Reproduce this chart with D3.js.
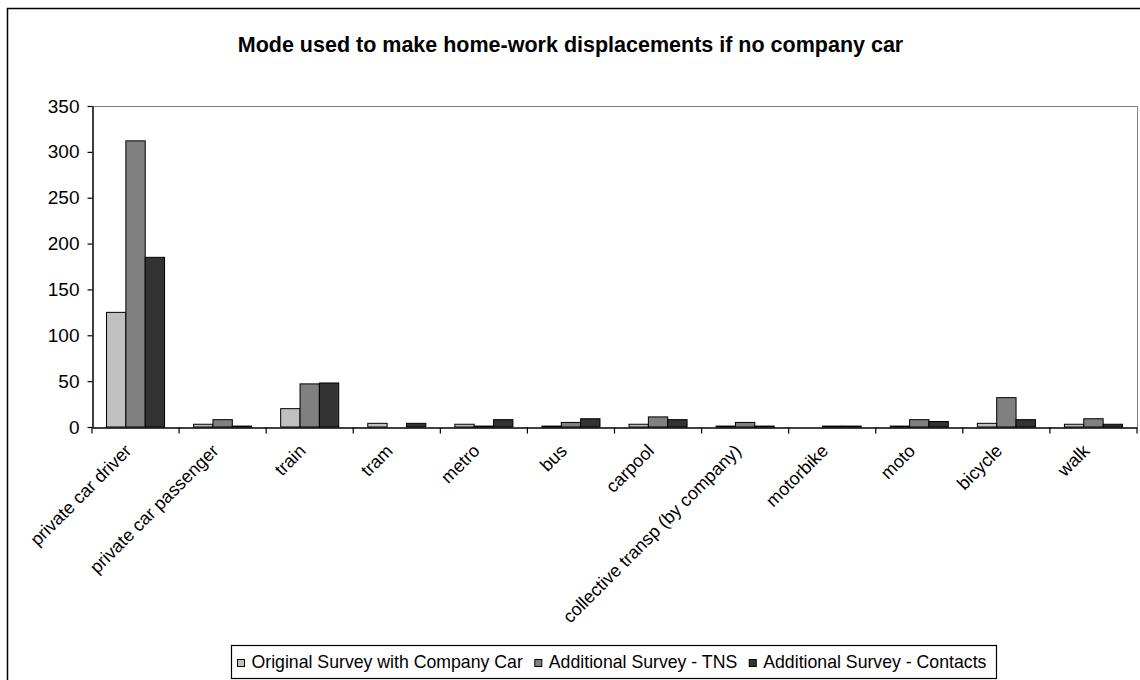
<!DOCTYPE html>
<html>
<head>
<meta charset="utf-8">
<script src="https://cdn.jsdelivr.net/npm/d3@7"></script>
<style>
  html, body { margin: 0; padding: 0; background: #fff; }
  svg { display: block; font-family: Arial, "Liberation Sans", sans-serif; }
</style>
</head>
<body>
<svg id="chart" width="1140" height="680"></svg>
<script>
// Transport modes (x categories)
const categories = [
  "private car driver", "private car passenger", "train", "tram", "metro", "bus",
  "carpool", "collective transp (by company)", "motorbike", "moto", "bicycle", "walk"
];

// Series names and counts per mode
const seriesNames = [
  "Original Survey with Company Car",
  "Additional Survey - TNS",
  "Additional Survey - Contacts"
];
const originalSurvey = [125, 3, 20, 4, 3, 1, 3, 1, 0, 1, 4, 3];
const tnsSurvey      = [312, 8, 47, 0, 1, 5, 11, 5, 1, 8, 32, 9];
const contactsSurvey = [185, 1, 48, 4, 8, 9, 8, 1, 1, 6, 8, 3];

// Y axis ticks
const yTicks = [0, 50, 100, 150, 200, 250, 300, 350];

const seriesValues = [originalSurvey, tnsSurvey, contactsSurvey];
const seriesColors = ["#c0c0c0", "#808080", "#333333"];

const svg = d3.select("#chart");

// Chart frame
svg.append("rect")
  .attr("x", 7.5).attr("y", 8.5)
  .attr("width", 1200).attr("height", 800)
  .attr("fill", "none").attr("stroke", "#000").attr("stroke-width", 1.5);

// Title
svg.append("text")
  .attr("x", 570.5).attr("y", 52)
  .attr("text-anchor", "middle")
  .attr("font-weight", "bold")
  .attr("font-size", "21.5px")
  .text("Mode used to make home-work displacements if no company car");

const plot = { left: 92, right: 1137, top: 106, bottom: 427 };

const x = d3.scaleBand().domain(categories).range([plot.left, plot.right]).padding(0);
const bw = x.bandwidth();
const xs = d3.scaleBand().domain(seriesNames).range([bw / 6, bw * 5 / 6]).padding(0);
const y = d3.scaleLinear().domain([0, 350]).range([plot.bottom, plot.top]);

// Plot area border (top and right, grey)
svg.append("path")
  .attr("d", `M${plot.left},${plot.top + 0.5}H${plot.right + 0.5}V${plot.bottom}`)
  .attr("fill", "none").attr("stroke", "#808080").attr("stroke-width", 1);

// Bars
const rows = categories.map((c, i) => ({
  cat: c,
  vals: seriesNames.map((s, k) => ({ s, k, v: seriesValues[k][i] }))
}));

const groups = svg.append("g").selectAll("g")
  .data(rows).join("g")
  .attr("transform", d => `translate(${x(d.cat)},0)`);

groups.selectAll("rect")
  .data(d => d.vals.filter(e => e.v > 0))
  .join("rect")
  .attr("x", d => xs(d.s))
  .attr("y", d => y(d.v))
  .attr("width", xs.bandwidth())
  .attr("height", d => y(0) - y(d.v))
  .attr("fill", d => seriesColors[d.k])
  .attr("stroke", "#000")
  .attr("stroke-width", 1);

// Y axis
const yAxis = svg.append("g")
  .attr("transform", `translate(${plot.left + 0.5},0)`)
  .call(d3.axisLeft(y).tickValues(yTicks).tickSize(5).tickPadding(8).tickSizeOuter(0));
yAxis.select(".domain").attr("stroke", "#000").attr("stroke-width", 1.5);
yAxis.selectAll(".tick line").attr("stroke", "#000").attr("stroke-width", 1.2);
yAxis.selectAll(".tick text")
  .attr("font-size", "19px").attr("font-family", "Arial, 'Liberation Sans', sans-serif")
  .attr("fill", "#000");

// X axis: baseline, boundary ticks, rotated labels
const xAxis = svg.append("g")
  .attr("transform", `translate(0,${plot.bottom + 0.5})`)
  .call(d3.axisBottom(x).tickSize(0).tickSizeOuter(0).tickFormat(""));
xAxis.select(".domain").attr("stroke", "#000").attr("stroke-width", 1.5);

const bounds = categories.map(c => x(c)).concat([plot.right]);
xAxis.selectAll(".bound")
  .data(bounds).join("line")
  .attr("class", "bound")
  .attr("x1", d => d).attr("x2", d => d)
  .attr("y1", 0).attr("y2", 6)
  .attr("stroke", "#000").attr("stroke-width", 1.2);

svg.append("g").selectAll("text")
  .data(categories).join("text")
  .attr("transform", d => `translate(${x(d) + bw / 2 - 12},443) rotate(-45)`)
  .attr("text-anchor", "end")
  .attr("dy", "0.71em")
  .attr("font-size", "18px")
  .attr("fill", "#000")
  .text(d => d);

// Legend
const legend = svg.append("g");
legend.append("rect")
  .attr("x", 231.5).attr("y", 645.5)
  .attr("width", 765).attr("height", 33)
  .attr("fill", "#fff").attr("stroke", "#000").attr("stroke-width", 1.2);

let lx = 237.5;
seriesNames.forEach((s, k) => {
  legend.append("rect")
    .attr("x", lx).attr("y", 659.5)
    .attr("width", 7).attr("height", 7)
    .attr("fill", seriesColors[k]).attr("stroke", "#000").attr("stroke-width", 1);
  const t = legend.append("text")
    .attr("x", lx + 14).attr("y", 667.5)
    .attr("font-size", "17.7px")
    .attr("fill", "#000")
    .text(s);
  lx = lx + 14 + t.node().getComputedTextLength() + 12;
});
</script>
</body>
</html>
